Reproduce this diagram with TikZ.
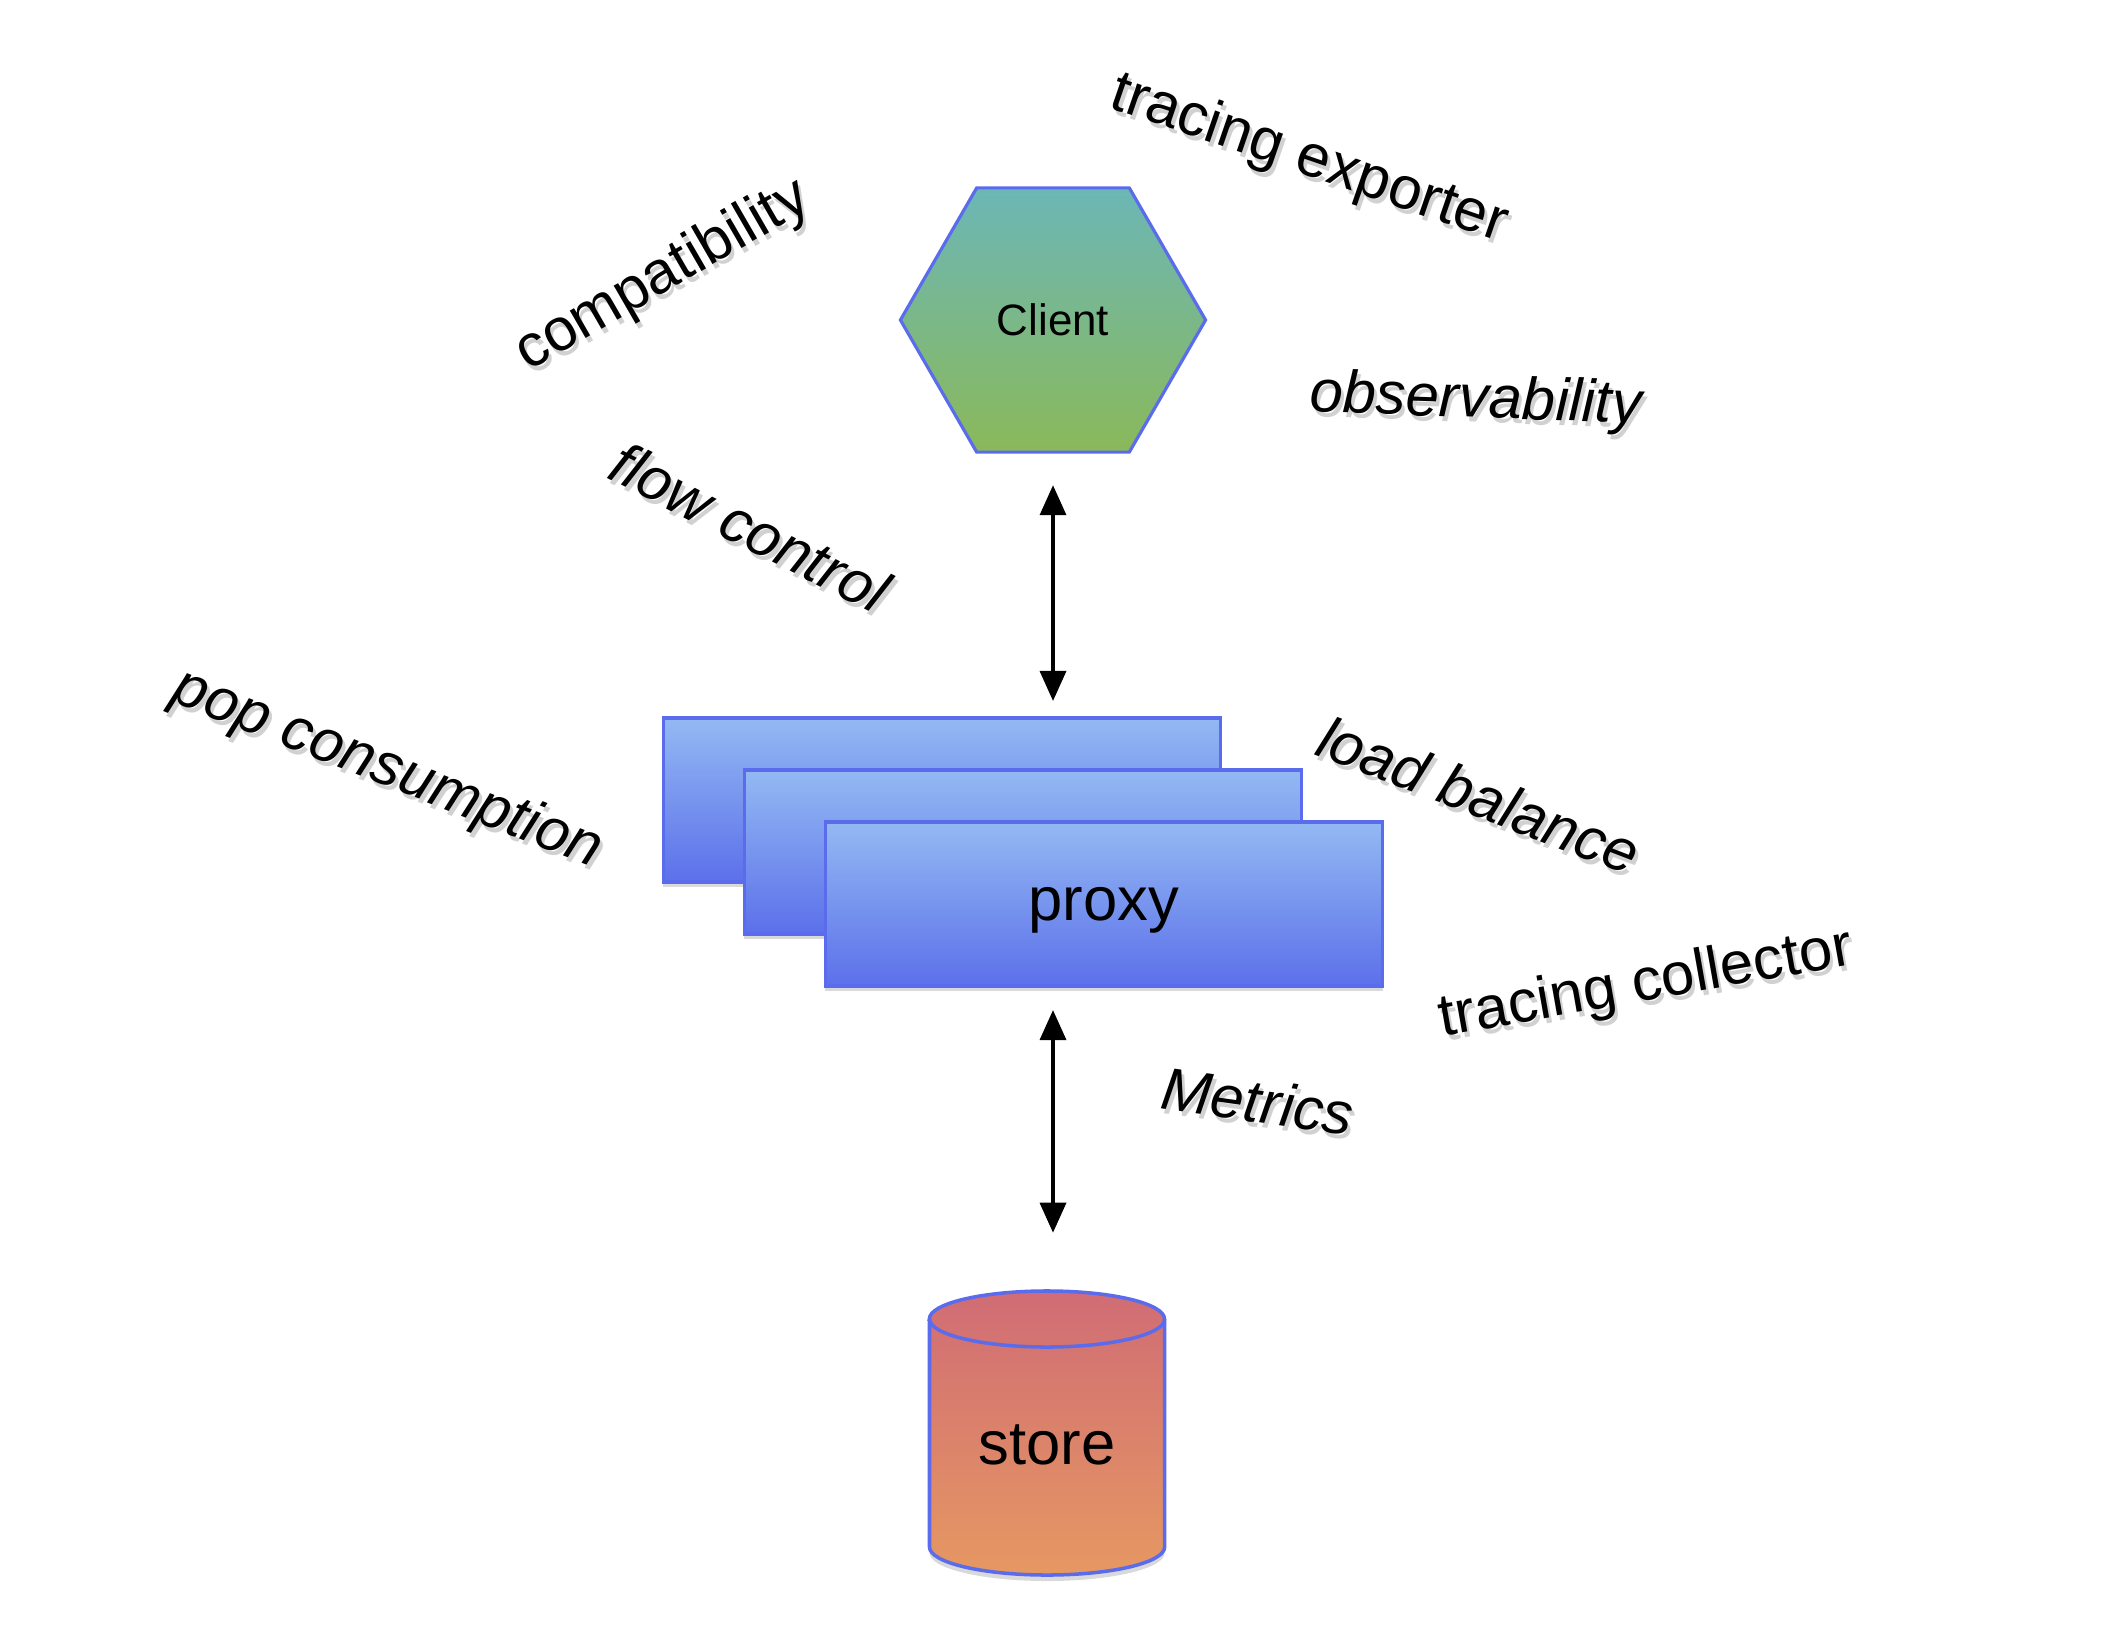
\documentclass[tikz,border=0pt]{standalone}
\usepackage{fontspec}
\setmainfont{Liberation Sans}
\usepackage{tikz}
\usetikzlibrary{shapes.geometric, arrows.meta, shadows, calc}
\definecolor{edgeblue}{HTML}{5A6CEC}
\definecolor{hextop}{HTML}{6CB7B6}
\definecolor{hexbot}{HTML}{8AB85A}
\definecolor{cardtop}{HTML}{93B9F3}
\definecolor{cardbot}{HTML}{5C70EA}
\definecolor{storetop}{HTML}{D06C75}
\definecolor{storebot}{HTML}{E69862}
\tikzstyle{link} = [line width=1pt,{Triangle[width=0.26cm,length=0.3cm]}-{Triangle[width=0.26cm,length=0.3cm]}]
\tikzstyle{hexa} = [regular polygon, regular polygon sides=6, minimum size=3.05cm, inner sep=0pt, outer sep=0pt, draw=edgeblue, line width=0.9pt, top color=hextop, bottom color=hexbot, font=\fontsize{12.5}{15}\selectfont]
\tikzstyle{card} = [rectangle, draw=edgeblue, line width=1pt, top color=cardtop, bottom color=cardbot, minimum width=5.57cm, minimum height=1.64cm, inner sep=0pt, outer sep=0pt, drop shadow={shadow xshift=0pt, shadow yshift=-0.05cm, opacity=0.3}, font=\fontsize{17.5}{20}\selectfont]

\begin{document}
\begin{tikzpicture}[x=0.01cm, y=-0.01cm]
            \useasboundingbox (0,0) rectangle (2120,1636);
            % client
            \node[hexa] (client) at (1053,320) {Client};
            % proxies, stacked
            \node[card] (proxyB) at (942,800) {};
            \node[card] (proxyM) at ($(proxyB)+(81,52)$) {};
            \node[card, text depth=-0.12cm] (proxy) at ($(proxyM)+(81,52)$) {proxy};
            % store cylinder
            \coordinate (storec) at (1047,1433);
            \draw[draw=edgeblue, line width=1pt, top color=storetop, bottom color=storebot, drop shadow={shadow xshift=0pt, shadow yshift=-0.06cm, opacity=0.3}]
                ($(storec)+(-117.5,-114)$) -- ($(storec)+(-117.5,114)$)
                arc[start angle=180, end angle=360, x radius=1.175cm, y radius=0.28cm]
                -- ($(storec)+(117.5,-114)$)
                arc[start angle=0, end angle=180, x radius=1.175cm, y radius=0.28cm] -- cycle;
            \draw[draw=edgeblue, line width=1pt] ($(storec)+(-117.5,-114)$) arc[start angle=180, end angle=360, x radius=1.175cm, y radius=0.28cm];
            \node[minimum width=2.35cm, minimum height=2.85cm, inner sep=0pt, font=\fontsize{17.5}{20}\selectfont] (store) at ($(storec)+(0,12)$) {store};
            % connectors
            \draw[link, shorten <=0.33cm, shorten >=0.17cm] (client.south) -- (client.south |- proxyB.north);
            \draw[link, shorten <=0.24cm, shorten >=0.69cm] (client |- proxy.south) -- (client |- store.north);
            % remarks around
            \foreach \n/\x/\y/\a/\f/\t in {compat/663/276/30/\upshape/compatibility,
                    texp/1309/160/-19/\upshape/tracing exporter,
                    obs/1476/402/-2/\itshape/observability,
                    flow/750/527/-27/\itshape/flow control,
                    pop/387/770/-21.5/\itshape/pop consumption,
                    lb/1479/795/-21/\itshape/load balance,
                    tcol/1646/985/10/\upshape/tracing collector,
                    metrics/1258/1101/-8/\itshape/Metrics} {
                \node[text=black!60, opacity=0.3, rotate=\a, font=\fontsize{17}{20}\selectfont\f] at (\x+3,\y+5) {\t};
                \node[rotate=\a, font=\fontsize{17}{20}\selectfont\f] (\n) at (\x,\y) {\t};
            }
        \end{tikzpicture}
\end{document}
